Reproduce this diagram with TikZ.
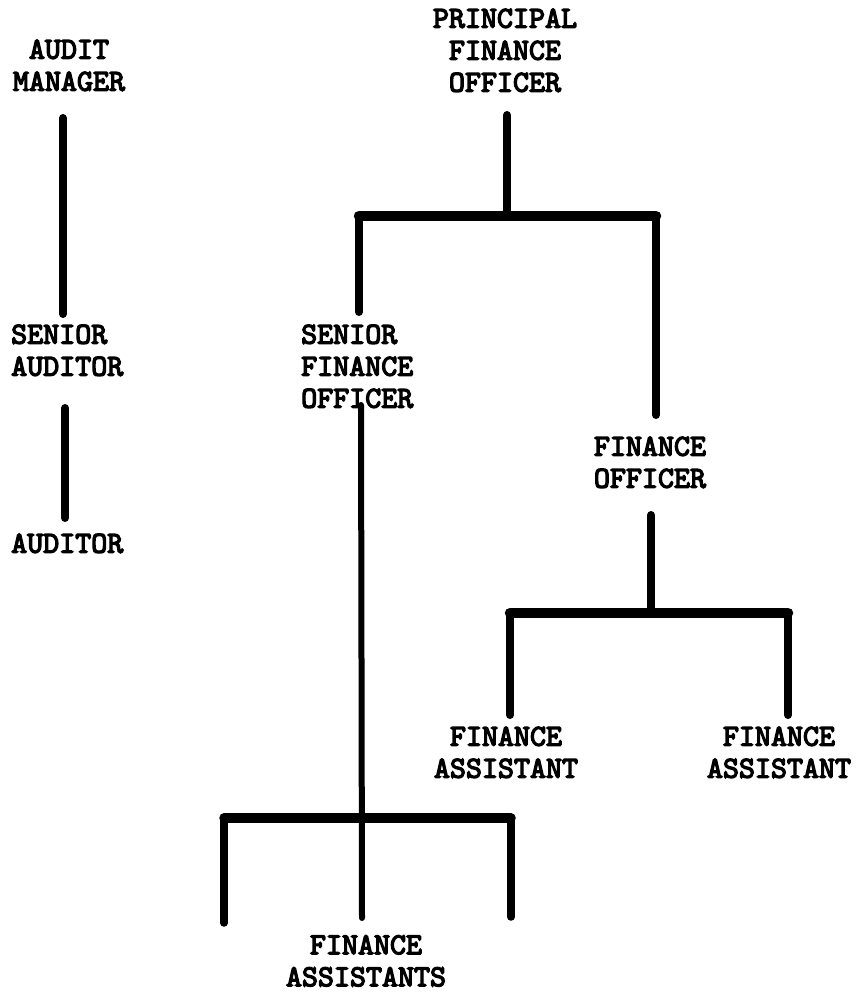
\documentclass[tikz,border=0pt]{standalone}
\usepackage{fontspec}
\newfontfamily\postfont{lmmono10-regular}[Extension=.otf,FakeBold=4.2]
\begin{document}
\begin{tikzpicture}[x=1pt,y=-1pt,
  post/.style={inner sep=0pt,font=\fontsize{30.5}{32}\selectfont\postfont},
  link/.style={line width=8pt,line cap=round},
  bar/.style={line width=10.5pt,line cap=round},
  thinlink/.style={line width=6pt,line cap=round}]
\useasboundingbox (0,0) rectangle (861,992);

% posts
\node[post,align=center,anchor=north]      (am)  at (69,39.5)   {AUDIT\\MANAGER};
\node[post,align=left,anchor=north west]   (sa)  at (11,324.5)  {SENIOR\\AUDITOR};
\node[post,align=left,anchor=north west]   (au)  at (11,533.5)  {AUDITOR};
\node[post,align=center,anchor=north]      (pfo) at (505,8.5)   {PRINCIPAL\\FINANCE\\OFFICER};
\node[post,align=left,anchor=north west]   (sfo) at (301,324.5) {SENIOR\\FINANCE\\OFFICER};
\node[post,align=center,anchor=north]      (fo)  at (650,436.5) {FINANCE\\OFFICER};
\node[post,align=center,anchor=north]      (fa1) at (506,726.5) {FINANCE\\ASSISTANT};
\node[post,align=center,anchor=north]      (fa2) at (779,726.5) {FINANCE\\ASSISTANT};
\node[post,align=center,anchor=north]      (fas) at (366,935)   {FINANCE\\ASSISTANTS};

% line end points
\coordinate (amEnd)   at (63,118);
\coordinate (saTop)   at (63,314);
\coordinate (saEnd)   at (65,408);
\coordinate (auTop)   at (65,518);

\coordinate (pfoEnd)  at (507,115);
\coordinate (pfoJoin) at (507,216);
\coordinate (pfoL)    at (359,216);
\coordinate (pfoR)    at (656,216);
\coordinate (sfoTop)  at (359,312);
\coordinate (foTop)   at (656,415);

\coordinate (sfoEnd)  at (361,405);
\coordinate (sfoJoin) at (361,818);
\coordinate (sfoL)    at (224,818);
\coordinate (sfoR)    at (511,818);
\coordinate (fasL)    at (224,923);
\coordinate (fasM)    at (362,918);
\coordinate (fasR)    at (511,917);

\coordinate (foEnd)   at (651,515);
\coordinate (foJoin)  at (651,613);
\coordinate (foL)     at (510,613);
\coordinate (foR)     at (788,613);
\coordinate (fa1Top)  at (510,715);
\coordinate (fa2Top)  at (788,715);

% audit line
\draw[link] (amEnd) -- (saTop);
\draw[link] (saEnd) -- (auTop);

% principal finance officer
\draw[link] (pfoEnd) -- (pfoJoin);
\draw[bar]  (pfoL) -- (pfoR);
\draw[link] (pfoL) -- (sfoTop);
\draw[link] (pfoR) -- (foTop);

% senior finance officer
\draw[thinlink] (sfoEnd) -- (fasM);
\draw[bar,line width=9.5pt] (sfoL) -- (sfoR);
\draw[link,line width=7.5pt] (sfoL) -- (fasL);
\draw[link,line width=7.5pt] (sfoR) -- (fasR);

% finance officer
\draw[link] (foEnd) -- (foJoin);
\draw[bar]  (foL) -- (foR);
\draw[link] (foL) -- (fa1Top);
\draw[link] (foR) -- (fa2Top);
\end{tikzpicture}
\end{document}
